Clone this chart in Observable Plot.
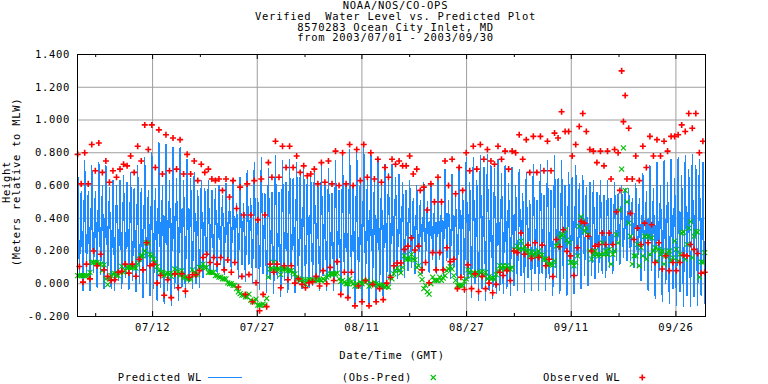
<!DOCTYPE html>
<html><head><meta charset="utf-8">
<script src="https://cdn.jsdelivr.net/npm/d3@7"></script>
<script src="https://cdn.jsdelivr.net/npm/@observablehq/plot@0.6"></script>
<style>html,body{margin:0;padding:0;background:#fff}svg{display:block}</style>
</head><body><div id="chart"></div>
<script>
// ---- text ----
const titleLines = ["NOAA/NOS/CO-OPS", "Verified  Water Level vs. Predicted Plot", "8570283 Ocean City Inlet, MD", "from 2003/07/01 - 2003/09/30"];
const yTitleLines = ["Height", "(Meters relative to MLW)"];
const xTitle = "Date/Time (GMT)";
const legendLabels = ["Predicted WL", "(Obs-Pred)", "Observed WL"];

// ---- axes ----
const startDate = "2003-07-01T00:00Z";
const endDate = "2003-10-01T00:00Z";
const yTicks = [-0.2, 0, 0.2, 0.4, 0.6, 0.8, 1.0, 1.2, 1.4];
const majorTickDates = ["2003-07-12T00:00Z", "2003-07-27T08:00Z", "2003-08-11T16:00Z", "2003-08-27T00:00Z", "2003-09-11T08:00Z", "2003-09-26T16:00Z"];
const majorTickLabels = ["07/12", "07/27", "08/11", "08/27", "09/11", "09/26"];
const minorTickDates = ["2003-07-03T16:00Z", "2003-07-19T00:00Z", "2003-08-03T08:00Z", "2003-08-18T16:00Z", "2003-09-03T00:00Z", "2003-09-18T08:00Z"];

// ---- tide events: high tides and low tides alternate, one every half tidal cycle ----
const tideHours = 12.42;      // semidiurnal tidal cycle
const firstHighHour = 0.5;    // first high tide after 07/01 00:00 GMT

// predicted high / low water (m, MLW), one value per tide
const predHigh = [
 0.74,0.56,0.75,0.56,0.72,0.56,0.74,0.60,0.72,0.59,
 0.63,0.60,0.63,0.66,0.62,0.68,0.58,0.72,0.58,0.77,
 0.57,0.80,0.58,0.86,0.60,0.85,0.63,0.83,0.64,0.83,
 0.63,0.76,0.64,0.68,0.57,0.63,0.58,0.63,0.57,0.58,
 0.60,0.54,0.61,0.53,0.64,0.49,0.65,0.49,0.69,0.52,
 0.74,0.52,0.77,0.55,0.70,0.56,0.78,0.56,0.75,0.62,
 0.76,0.64,0.74,0.66,0.70,0.64,0.65,0.68,0.59,0.72,
 0.60,0.70,0.55,0.75,0.57,0.78,0.61,0.82,0.60,0.82,
 0.62,0.83,0.63,0.80,0.63,0.77,0.63,0.73,0.67,0.73,
 0.65,0.67,0.62,0.57,0.63,0.52,0.60,0.51,0.62,0.50,
 0.61,0.48,0.63,0.48,0.70,0.51,0.67,0.53,0.72,0.58,
 0.77,0.62,0.77,0.63,0.78,0.71,0.79,0.72,0.70,0.76,
 0.67,0.72,0.61,0.71,0.60,0.70,0.55,0.68,0.51,0.73,
 0.51,0.73,0.54,0.75,0.57,0.78,0.64,0.75,0.60,0.68,
 0.65,0.72,0.61,0.66,0.59,0.62,0.63,0.56,0.63,0.54,
 0.63,0.52,0.62,0.55,0.60,0.58,0.58,0.52,0.61,0.52,
 0.67,0.56,0.72,0.58,0.74,0.60,0.75,0.62,0.76,0.64,
 0.77,0.66,0.78,0.70,0.79,0.72,0.76,0.74];
const predLow = [
 0.055,-0.04,0.07,-0.04,0.07,-0.02,0.06,-0.03,0.05,-0.03,
 -0.04,0.02,-0.03,0.04,-0.035,0.02,-0.05,0.0,-0.085,0.0,
 -0.07,-0.03,-0.10,-0.02,-0.12,-0.04,-0.13,-0.03,-0.10,-0.02,
 -0.085,0.01,-0.03,0.0,-0.02,0.04,0.08,0.06,0.09,0.07,
 0.12,0.055,0.14,0.07,0.14,0.03,0.115,0.015,0.12,0.0,
 0.10,-0.035,0.06,-0.05,0.03,-0.06,0.03,-0.08,0.02,-0.056,
 0.03,-0.056,0.0,-0.03,-0.02,-0.02,-0.01,0.02,-0.04,0.05,
 -0.04,0.04,-0.04,0.07,-0.08,0.06,-0.085,0.06,-0.12,0.0,
 -0.11,0.01,-0.12,0.0,-0.11,-0.02,-0.09,0.02,0.0,0.05,
 0.03,0.06,0.04,0.08,0.10,0.06,0.12,0.06,0.14,0.07,
 0.15,0.065,0.15,0.05,0.14,0.03,0.10,-0.02,0.05,-0.05,
 0.03,-0.08,0.0,-0.10,-0.03,-0.10,-0.04,-0.09,-0.06,-0.04,
 -0.06,-0.03,-0.07,-0.01,-0.04,0.05,-0.05,0.04,-0.04,0.06,
 -0.04,0.06,-0.04,0.03,-0.07,0.04,-0.06,0.03,-0.07,0.04,
 -0.06,0.05,-0.03,0.05,-0.01,0.05,0.03,0.07,0.06,0.04,
 0.10,0.06,0.14,0.12,0.16,0.14,0.14,0.10,0.10,0.02,
 0.08,-0.04,0.08,-0.09,0.04,-0.11,0.0,-0.12,-0.03,-0.13,
 -0.05,-0.14,-0.07,-0.14,-0.08,-0.13,-0.07,-0.12];

// observed (verified) high / low water (m, MLW)
const obsHigh = [
 0.79,0.61,0.80,0.61,0.85,0.69,0.86,0.68,0.75,0.62,
 0.69,0.65,0.70,0.73,0.72,0.78,0.68,0.84,0.75,0.97,
 0.82,0.97,0.71,0.94,0.67,0.91,0.69,0.89,0.70,0.88,
 0.67,0.79,0.67,0.75,0.63,0.73,0.68,0.70,0.64,0.63,
 0.64,0.57,0.64,0.53,0.63,0.46,0.59,0.42,0.61,0.42,
 0.63,0.39,0.64,0.42,0.74,0.65,0.87,0.65,0.84,0.71,
 0.84,0.71,0.78,0.68,0.72,0.66,0.67,0.70,0.61,0.74,
 0.62,0.75,0.61,0.81,0.60,0.80,0.61,0.85,0.60,0.82,
 0.63,0.85,0.65,0.80,0.64,0.76,0.62,0.71,0.65,0.76,
 0.73,0.75,0.72,0.72,0.78,0.67,0.70,0.57,0.59,0.45,
 0.61,0.50,0.65,0.50,0.75,0.60,0.76,0.55,0.71,0.57,
 0.80,0.69,0.84,0.70,0.85,0.76,0.82,0.75,0.73,0.84,
 0.76,0.81,0.70,0.81,0.80,0.91,0.76,0.88,0.68,0.90,
 0.68,0.90,0.69,0.87,0.69,0.92,0.89,1.05,0.93,0.93,
 0.78,0.85,0.96,1.04,0.93,0.82,0.81,0.74,0.81,0.72,
 0.81,0.64,0.82,0.80,1.30,1.15,0.95,0.64,0.78,0.63,
 0.84,0.71,0.90,0.78,0.88,0.78,0.87,0.81,0.90,0.90,
 0.91,0.97,0.93,1.04,0.95,1.04,0.80,0.87];
const obsLow = [
 0.105,0.01,0.12,0.03,0.20,0.11,0.18,0.085,0.045,0.02,
 0.024,0.07,0.076,0.12,0.065,0.12,0.046,0.15,0.085,0.25,
 0.11,0.12,0.004,0.05,-0.07,0.024,-0.085,0.06,-0.024,0.06,
 -0.045,0.04,0.055,0.055,0.08,0.16,0.18,0.13,0.16,0.12,
 0.16,0.085,0.145,0.07,0.13,-0.02,0.045,-0.065,0.056,-0.11,
 0.006,-0.165,-0.065,-0.14,0.12,0.07,0.12,-0.024,0.11,0.024,
 0.11,0.004,0.03,-0.004,-0.024,0.006,0.012,0.045,-0.014,0.08,
 0.0,0.10,0.02,0.135,-0.065,0.07,-0.085,0.07,-0.135,-0.014,
 -0.11,0.02,-0.135,-0.004,-0.11,-0.03,-0.097,0.004,0.04,0.11,
 0.127,0.127,0.21,0.23,0.28,0.206,0.23,0.085,0.13,0.006,
 0.19,0.085,0.19,0.085,0.22,0.135,0.15,-0.03,0.04,-0.035,
 0.115,-0.03,0.06,-0.047,0.045,-0.03,0.004,-0.055,-0.004,0.07,
 0.05,0.08,0.02,0.20,0.19,0.31,0.18,0.236,0.155,0.25,
 0.16,0.236,0.11,0.15,0.044,0.27,0.226,0.33,0.198,0.17,
 0.05,0.22,0.38,0.37,0.29,0.20,0.23,0.24,0.31,0.24,
 0.31,0.24,0.44,0.57,0.99,0.64,0.43,0.27,0.34,0.24,
 0.37,0.25,0.36,0.13,0.25,0.09,0.17,0.08,0.13,0.08,
 0.13,0.175,0.17,0.24,0.21,0.185,0.064,0.07];

// ---- colours ----
const predColor = "#1e8cff", resColor = "#00c000", obsColor = "#ff0000", gridColor = "#9e9e9e";
const fontFamily = "'DejaVu Sans Mono', 'Liberation Mono', monospace";
const fontSize = 10.5, letterSpacing = 0.7;

// ---- build table ----
const t0 = new Date(startDate).getTime();
const at = h => new Date(t0 + h * 3600e3);
const events = [];
predHigh.forEach((p, k) => {
  events.push({t: at(firstHighHour + k * tideHours), pred: p, obs: obsHigh[k]});
  if (k < predLow.length) events.push({t: at(firstHighHour + (k + 0.5) * tideHours), pred: predLow[k], obs: obsLow[k]});
});
events.forEach(e => e.res = e.obs - e.pred);
const majors = majorTickDates.map(d => new Date(d));
const minors = minorTickDates.map(d => new Date(d));
const labelOf = new Map(majors.map((d, i) => [+d, majorTickLabels[i]]));

const W = 768, H = 384, mT = 54, mB = 68, mL = 77, mR = 63;
const plotH = H - mT - mB;
const rObs = 2.1, rRes = 2.4;

const svg = Plot.plot({
  width: W, height: H,
  marginTop: mT, marginBottom: mB, marginLeft: mL, marginRight: mR,
  style: {fontFamily, fontSize: fontSize + "px", letterSpacing: letterSpacing + "px", background: "#fff", color: "#000"},
  x: {type: "utc", domain: [new Date(startDate), new Date(endDate)]},
  y: {domain: [-0.2, 1.4]},
  marks: [
    Plot.gridY(yTicks, {stroke: gridColor, strokeOpacity: 1}),
    Plot.gridX(majors, {stroke: gridColor, strokeOpacity: 1}),
    Plot.line(events, {x: "t", y: "pred", stroke: predColor, strokeWidth: 1.3, shapeRendering: "crispEdges"}),
    Plot.dot(events, {x: "t", y: "res", symbol: "times", r: rRes, stroke: resColor, strokeWidth: 1.1}),
    Plot.dot(events, {x: "t", y: "obs", symbol: "plus", r: rObs, stroke: obsColor, strokeWidth: 1.6, fill: "none"}),
    Plot.tickX(majors, {x: d => d, stroke: "#000", insetTop: plotH - 5}),
    Plot.tickX(majors, {x: d => d, stroke: "#000", insetBottom: plotH - 5}),
    Plot.tickX(minors, {x: d => d, stroke: "#000", insetTop: plotH - 3}),
    Plot.tickX(minors, {x: d => d, stroke: "#000", insetBottom: plotH - 3}),
    Plot.frame({stroke: "#000"}),
    Plot.axisY(yTicks, {tickSize: 0, tickPadding: 7.5, tickFormat: d => d.toFixed(3), label: null, fill: "#000"}),
    Plot.axisX(majors, {tickSize: 0, tickPadding: 7.5, tickFormat: d => labelOf.get(+d), label: null, fill: "#000"})
  ]
});

const s = d3.select(svg);
const txt = (x, y, str, anchor, rot) => {
  const t = s.append("text").attr("x", x).attr("y", y).attr("text-anchor", anchor)
    .attr("font-family", fontFamily).attr("font-size", fontSize).attr("letter-spacing", letterSpacing + "px").attr("fill", "#000").text(str);
  if (rot) t.attr("transform", `rotate(-90 ${x} ${y})`);
  return t;
};
titleLines.forEach((l, i) => txt(395.5, 9 + i * 10.8, l, "middle"));
txt(392, 359, xTitle, "middle");
txt(9.5, 182, yTitleLines[0], "middle", true);
txt(20, 182, yTitleLines[1], "middle", true);

// legend
const ly = 377.5;
txt(117.7, 381, legendLabels[0], "start");
s.append("line").attr("x1", 208).attr("x2", 242).attr("y1", ly).attr("y2", ly).attr("stroke", predColor).attr("stroke-width", 1.2);
txt(341.7, 381, legendLabels[1], "start");
s.append("path").attr("transform", `translate(433.3,${ly})`).attr("d", d3.symbol(d3.symbolTimes, Math.PI * rRes * rRes)())
  .attr("fill", "none").attr("stroke", resColor).attr("stroke-width", 1.1);
txt(543, 381, legendLabels[2], "start");
s.append("path").attr("transform", `translate(642.3,${ly})`).attr("d", d3.symbol(d3.symbolPlus, Math.PI * rObs * rObs)())
  .attr("fill", "none").attr("stroke", obsColor).attr("stroke-width", 1.6);

document.getElementById("chart").appendChild(svg);
</script>
</body></html>
